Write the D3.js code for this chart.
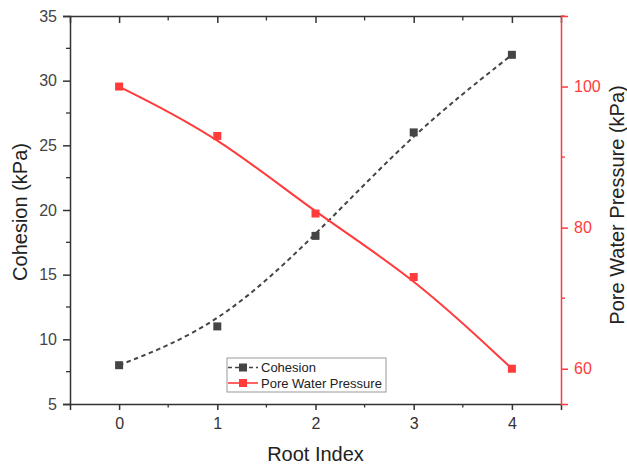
<!DOCTYPE html>
<html>
<head>
<meta charset="utf-8">
<script src="https://cdn.jsdelivr.net/npm/d3@7"></script>
<style>
  body { margin: 0; background: #fff; }
  text { font-family: "Liberation Sans", Arial, sans-serif; }
</style>
</head>
<body>
<svg id="chart" width="627" height="468"></svg>
<script>
// Data
const rootIndex = [0, 1, 2, 3, 4];
const cohesion = [8, 11, 18, 26, 32];
const poreWater = [100, 93, 82, 73, 60];

const leftTicks = [5, 10, 15, 20, 25, 30, 35];
const rightTicks = [60, 80, 100];

const red = "#ff3b3b";
const gray = "#454545";

const svg = d3.select("#chart");
const margin = { top: 16, right: 66, bottom: 64, left: 70 };
const width = 627 - margin.left - margin.right;
const height = 468 - margin.top - margin.bottom;

const x = d3.scaleLinear().domain([-0.5, 4.5]).range([0, width]);
const yL = d3.scaleLinear().domain([5, 35]).range([height, 0]);
const yR = d3.scaleLinear().domain([55, 110]).range([height, 0]);

const g = svg.append("g")
    .attr("transform", `translate(${margin.left},${margin.top})`);

// Minor ticks
function minorTicks(axisG, positions, len, horizontal, color) {
    axisG.selectAll("line.minor")
        .data(positions)
        .enter()
        .append("line")
        .attr("class", "minor")
        .attr("x1", d => horizontal ? d : 0)
        .attr("x2", d => horizontal ? d : len)
        .attr("y1", d => horizontal ? 0 : d)
        .attr("y2", d => horizontal ? len : d)
        .attr("stroke", color)
        .attr("stroke-width", 1.3);
}

// Bottom axis
const xAxisG = g.append("g")
    .attr("transform", `translate(0,${height})`)
    .call(d3.axisBottom(x).tickValues(rootIndex).tickFormat(d3.format("d")).tickSize(6).tickPadding(8));
xAxisG.select(".domain").attr("stroke", "#333").attr("stroke-width", 1.5);
xAxisG.selectAll(".tick line").attr("stroke", "#333").attr("stroke-width", 1.5);
xAxisG.selectAll("text").attr("fill", "#333").style("font-size", "16px");
minorTicks(xAxisG, [0.5, 1.5, 2.5, 3.5].map(x), 3.5, true, "#333");

// Top axis (ticks inward)
const topG = g.append("g")
    .call(d3.axisTop(x).tickValues(rootIndex).tickSize(-7).tickFormat(""));
topG.select(".domain").attr("stroke", "#333").attr("stroke-width", 1.5);
topG.selectAll(".tick line").attr("stroke", "#333").attr("stroke-width", 1.5);
minorTicks(topG, [0.5, 1.5, 2.5, 3.5].map(x), 4.5, true, "#333");

// Left axis
const yLG = g.append("g")
    .call(d3.axisLeft(yL).tickValues(leftTicks).tickSize(7).tickPadding(6));
yLG.select(".domain").attr("stroke", "#333").attr("stroke-width", 1.5);
yLG.selectAll(".tick line").attr("stroke", "#333").attr("stroke-width", 1.5);
yLG.selectAll("text").attr("fill", "#444").style("font-size", "16px");
minorTicks(yLG, [7.5, 12.5, 17.5, 22.5, 27.5, 32.5].map(yL), -4, false, "#333");

// Right axis (red)
const yRG = g.append("g")
    .attr("transform", `translate(${width},0)`)
    .call(d3.axisRight(yR).tickValues(rightTicks).tickSize(7).tickPadding(6));
yRG.select(".domain").attr("stroke", red).attr("stroke-width", 1.5);
yRG.selectAll(".tick line").attr("stroke", red).attr("stroke-width", 1.5);
yRG.selectAll("text").attr("fill", red).style("font-size", "16px");
minorTicks(yRG, [70, 90, 110].map(yR), 4, false, red);

// Curves
const cohesionLine = d3.line()
    .x((d, i) => x(rootIndex[i]))
    .y(d => yL(d))
    .curve(d3.curveBasis);
const poreLine = d3.line()
    .x((d, i) => x(rootIndex[i]))
    .y(d => yR(d))
    .curve(d3.curveBasis);

g.append("path")
    .datum(cohesion)
    .attr("d", cohesionLine)
    .attr("fill", "none")
    .attr("stroke", gray)
    .attr("stroke-width", 2)
    .attr("stroke-dasharray", "4.5,3.5");

g.append("path")
    .datum(poreWater)
    .attr("d", poreLine)
    .attr("fill", "none")
    .attr("stroke", red)
    .attr("stroke-width", 2);

const ms = 8;
g.selectAll("rect.coh")
    .data(cohesion)
    .enter()
    .append("rect")
    .attr("class", "coh")
    .attr("x", (d, i) => x(rootIndex[i]) - ms / 2)
    .attr("y", d => yL(d) - ms / 2)
    .attr("width", ms)
    .attr("height", ms)
    .attr("fill", gray);

g.selectAll("rect.pore")
    .data(poreWater)
    .enter()
    .append("rect")
    .attr("class", "pore")
    .attr("x", (d, i) => x(rootIndex[i]) - ms / 2)
    .attr("y", d => yR(d) - ms / 2)
    .attr("width", ms)
    .attr("height", ms)
    .attr("fill", red);

// Legend
const legend = svg.append("g").attr("transform", "translate(227,358)");
legend.append("rect")
    .attr("width", 159)
    .attr("height", 34)
    .attr("fill", "#fff")
    .attr("stroke", "#999")
    .attr("stroke-width", 1);

const legendItems = [
    { name: "Cohesion", color: gray, dash: "4,3" },
    { name: "Pore Water Pressure", color: red, dash: null }
];
legendItems.forEach((item, i) => {
    const yy = 9.5 + i * 15.5;
    legend.append("line")
        .attr("x1", 1).attr("x2", 31)
        .attr("y1", yy).attr("y2", yy)
        .attr("stroke", item.color)
        .attr("stroke-width", 1.6)
        .attr("stroke-dasharray", item.dash);
    legend.append("rect")
        .attr("x", 16 - 4).attr("y", yy - 4)
        .attr("width", 8).attr("height", 8)
        .attr("fill", item.color);
    legend.append("text")
        .attr("x", 34)
        .attr("y", yy + 4.5)
        .style("font-size", "13px")
        .attr("fill", "#222")
        .text(item.name);
});

// Axis titles
svg.append("text")
    .attr("x", margin.left + width / 2)
    .attr("y", 461)
    .attr("text-anchor", "middle")
    .style("font-size", "20px")
    .attr("fill", "#222")
    .text("Root Index");

svg.append("text")
    .attr("transform", `translate(27,${margin.top + height / 2 + 2}) rotate(-90)`)
    .attr("text-anchor", "middle")
    .style("font-size", "20px")
    .attr("fill", "#222")
    .text("Cohesion (kPa)");

svg.append("text")
    .attr("transform", `translate(624,${margin.top + height / 2 - 5}) rotate(-90)`)
    .attr("text-anchor", "middle")
    .style("font-size", "20px")
    .attr("fill", "#222")
    .text("Pore Water Pressure (kPa)");
</script>
</body>
</html>
